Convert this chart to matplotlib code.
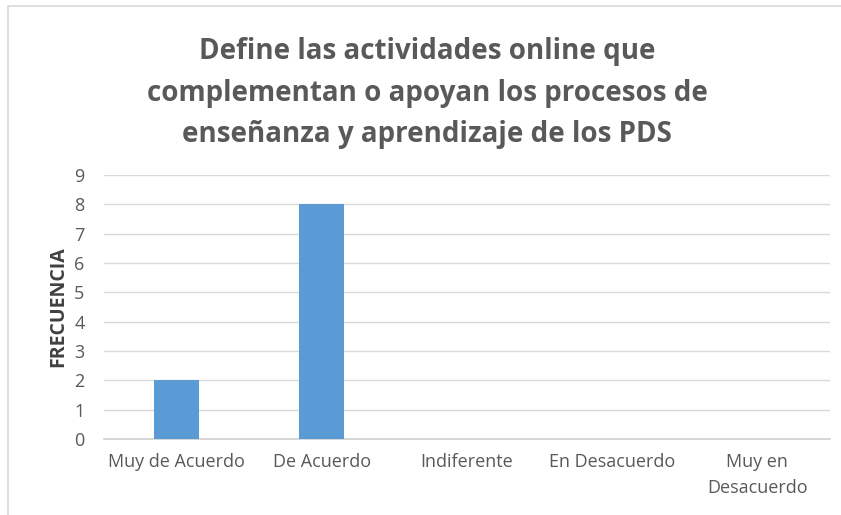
import matplotlib.pyplot as plt
from matplotlib.patches import Rectangle

# data
categorias = ['Muy de Acuerdo', 'De Acuerdo', 'Indiferente', 'En Desacuerdo', 'Muy en\nDesacuerdo']
frecuencia = [2, 8, 0, 0, 0]
titulo = 'Define las actividades online que\ncomplementan o apoyan los procesos de\nenseñanza y aprendizaje de los PDS'

plt.rcParams['font.family'] = ['Open Sans', 'DejaVu Sans']

fig = plt.figure(figsize=(8.41, 5.15), dpi=100)
ax = fig.add_axes([104 / 841, 1 - 439 / 515, 726 / 841, 264 / 515])

x = range(len(categorias))
ax.bar(x, frecuencia, width=0.31, color='#5B9BD5', zorder=3)

ax.set_xlim(-0.5, len(categorias) - 0.5)
ax.set_ylim(0, 9)
ax.set_yticks(range(0, 10))
ax.set_xticks(list(x))
ax.set_xticklabels(categorias, linespacing=1.55)
ax.tick_params(axis='both', length=0, colors='#595959', labelsize=13)
ax.tick_params(axis='x', pad=10)
ax.tick_params(axis='y', pad=14)
ax.grid(axis='y', color='#D9D9D9', linewidth=1, zorder=0)
for s in ['top', 'right', 'left']:
    ax.spines[s].set_visible(False)
ax.spines['bottom'].set_color('#D0D0D0')
ax.spines['bottom'].set_linewidth(1.2)

ax.set_ylabel('FRECUENCIA', fontsize=14, fontweight='bold', color='#404040', labelpad=4)

fig.text(427 / 841, 1 - 93 / 515, titulo, ha='center', va='center', fontsize=20,
         fontweight='bold', color='#595959', linespacing=1.55)

# chart border
fig.patches.append(Rectangle((8 / 841, -0.1), 1.1, 1 - 6 / 515 + 0.1, transform=fig.transFigure,
                             fill=False, edgecolor='#D9D9D9', linewidth=1.2))

fig.savefig('out.png', dpi=100)
